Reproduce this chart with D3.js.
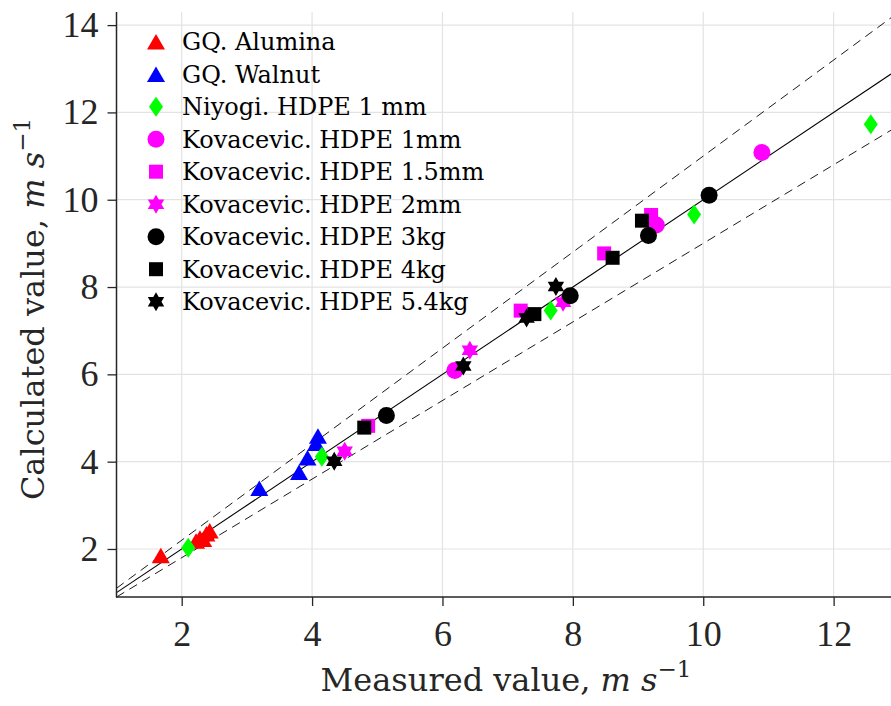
<!DOCTYPE html>
<html><head><meta charset="utf-8">
<script src="https://cdn.jsdelivr.net/npm/d3@7"></script>
<style>body{margin:0;background:#fff}svg{display:block}</style>
</head><body>
<svg id="c" width="891" height="706"></svg>
<script>
// ---- data ----
const xTicks = [2, 4, 6, 8, 10, 12];
const yTicks = [2, 4, 6, 8, 10, 12, 14];
const seriesNames = ["GQ. Alumina", "GQ. Walnut", "Niyogi. HDPE 1 mm", "Kovacevic. HDPE 1mm",
  "Kovacevic. HDPE 1.5mm", "Kovacevic. HDPE 2mm", "Kovacevic. HDPE 3kg", "Kovacevic. HDPE 4kg", "Kovacevic. HDPE 5.4kg"];
const seriesColors = ["#ff0000", "#0000ff", "#00ff00", "#ff00ff", "#ff00ff", "#ff00ff", "#000000", "#000000", "#000000"];
const seriesShapes = ["triangle", "triangle", "diamond", "circle", "square", "hexagram", "circle", "square", "hexagram"];

const aluminaX = [1.68, 2.22, 2.28, 2.33, 2.38, 2.43];
const aluminaY = [1.85, 2.18, 2.25, 2.22, 2.35, 2.42];
const walnutX = [3.19, 3.80, 3.93, 4.06, 4.09];
const walnutY = [3.39, 3.76, 4.09, 4.42, 4.59];
const niyogiX = [2.10, 4.15, 7.66, 9.86, 12.57];
const niyogiY = [2.03, 4.11, 7.46, 9.66, 11.73];
const kov1mmX = [6.19, 9.28, 10.90];
const kov1mmY = [6.09, 9.42, 11.08];
const kov15mmX = [4.86, 7.20, 8.48, 9.20];
const kov15mmY = [4.82, 7.46, 8.77, 9.65];
const kov2mmX = [4.50, 6.42, 7.85];
const kov2mmY = [4.24, 6.55, 7.65];
const kov3kgX = [5.14, 7.96, 9.16, 10.09];
const kov3kgY = [5.06, 7.80, 9.18, 10.10];
const kov4kgX = [4.80, 7.41, 8.61, 9.06];
const kov4kgY = [4.78, 7.38, 8.67, 9.52];
const kov54kgX = [4.34, 6.32, 7.29, 7.74];
const kov54kgY = [4.01, 6.19, 7.29, 8.01];

const seriesX = [aluminaX, walnutX, niyogiX, kov1mmX, kov15mmX, kov2mmX, kov3kgX, kov4kgX, kov54kgX];
const seriesY = [aluminaY, walnutY, niyogiY, kov1mmY, kov15mmY, kov2mmY, kov3kgY, kov4kgY, kov54kgY];

// ---- chart ----
const svg = d3.select("#c");
const L = 116.5, R = 891, T = 12, B = 597;
const x = d3.scaleLinear().domain([1, 12.88]).range([L, R]);
const y = d3.scaleLinear().domain([0.9, 14.3]).range([B, T]);
const fontTick = "Liberation Serif";
const fontText = "DejaVu Serif";
const axisCol = "#262626";

// grid
svg.append("g").selectAll("line").data(xTicks).join("line")
  .attr("x1", d => x(d)).attr("x2", d => x(d)).attr("y1", T).attr("y2", B)
  .attr("stroke", "#e3e3e3").attr("stroke-width", 1.2);
svg.append("g").selectAll("line").data(yTicks).join("line")
  .attr("x1", L).attr("x2", R).attr("y1", d => y(d)).attr("y2", d => y(d))
  .attr("stroke", "#e3e3e3").attr("stroke-width", 1.2);

// reference lines
svg.append("clipPath").attr("id", "pc").append("rect")
  .attr("x", L).attr("y", T).attr("width", R - L).attr("height", B - T);
const lg = svg.append("g").attr("clip-path", "url(#pc)");
const xmin = 1, xmax = 12.88;
[[1, null], [1.1, "9,6"], [0.9, "9,6"]].forEach(([k, dash]) => {
  const ln = lg.append("line")
    .attr("x1", x(xmin)).attr("y1", y(k * xmin)).attr("x2", x(xmax)).attr("y2", y(k * xmax))
    .attr("stroke", "#000").attr("stroke-width", dash ? 0.9 : 1.1);
  if (dash) ln.attr("stroke-dasharray", dash);
});

function markerPath(shape) {
  if (shape === "triangle") { const w = 18, h = 15.5; return `M0,${-h/2}L${w/2},${h/2}L${-w/2},${h/2}Z`; }
  if (shape === "diamond") { const w = 14, h = 20; return `M0,${-h/2}L${w/2},0L0,${h/2}L${-w/2},0Z`; }
  if (shape === "square") { const s = 14; return `M${-s/2},${-s/2}h${s}v${s}h${-s}Z`; }
  if (shape === "circle") { const r = 8.5; return `M${r},0A${r},${r},0,1,1,${-r},0A${r},${r},0,1,1,${r},0Z`; }
  if (shape === "hexagram") {
    const Ro = 9.5, Ri = Ro / Math.sqrt(3); let p = "";
    for (let i = 0; i < 12; i++) {
      const a = -Math.PI / 2 + i * Math.PI / 6, r = i % 2 === 0 ? Ro : Ri;
      p += (i === 0 ? "M" : "L") + (r * Math.cos(a)).toFixed(2) + "," + (r * Math.sin(a)).toFixed(2);
    }
    return p + "Z";
  }
}

seriesNames.forEach((name, i) => {
  const pts = seriesX[i].map((v, j) => [v, seriesY[i][j]]);
  svg.append("g").selectAll("path").data(pts).join("path")
    .attr("d", markerPath(seriesShapes[i]))
    .attr("transform", d => `translate(${x(d[0])},${y(d[1])})`)
    .attr("fill", seriesColors[i]);
});

// axes
const xa = svg.append("g").attr("transform", `translate(0,${B})`)
  .call(d3.axisBottom(x).tickValues(xTicks).tickSize(9).tickPadding(14).tickFormat(d3.format("d")));
const ya = svg.append("g").attr("transform", `translate(${L},0)`)
  .call(d3.axisLeft(y).tickValues(yTicks).tickSize(9).tickPadding(9).tickFormat(d3.format("d")));
[xa, ya].forEach(a => {
  a.select(".domain").remove();
  a.selectAll("line").attr("stroke", axisCol).attr("stroke-width", 1.3);
  a.selectAll("text").attr("fill", axisCol).attr("font-family", fontTick).attr("font-size", 36);
});
svg.append("line").attr("x1", L).attr("x2", L).attr("y1", T).attr("y2", B + 0.5).attr("stroke", axisCol).attr("stroke-width", 1.5);
svg.append("line").attr("x1", L - 0.5).attr("x2", R).attr("y1", B).attr("y2", B).attr("stroke", axisCol).attr("stroke-width", 1.5);

const xl = svg.append("text").attr("x", 506).attr("y", 691).attr("text-anchor", "middle")
  .attr("fill", axisCol).attr("font-family", fontText).attr("font-size", 32);
xl.append("tspan").text("Measured value, ");
xl.append("tspan").attr("font-style", "italic").text("m s");
xl.append("tspan").attr("dy", -14).attr("font-size", 23).text("−1");

const yl = svg.append("text").attr("transform", `translate(44,309) rotate(-90)`).attr("text-anchor", "middle")
  .attr("fill", axisCol).attr("font-family", fontText).attr("font-size", 32);
yl.append("tspan").text("Calculated value, ");
yl.append("tspan").attr("font-style", "italic").text("m s");
yl.append("tspan").attr("dy", -14).attr("font-size", 23).text("−1");

const leg = svg.append("g");
seriesNames.forEach((name, i) => {
  const cy = 41.7 + i * 32.5;
  leg.append("path").attr("d", markerPath(seriesShapes[i])).attr("transform", `translate(156,${cy})`).attr("fill", seriesColors[i]);
  leg.append("text").attr("x", 182).attr("y", cy).attr("dy", "0.36em")
    .attr("font-family", fontText).attr("font-size", 24).attr("fill", "#000").text(name);
});
</script>
</body></html>
